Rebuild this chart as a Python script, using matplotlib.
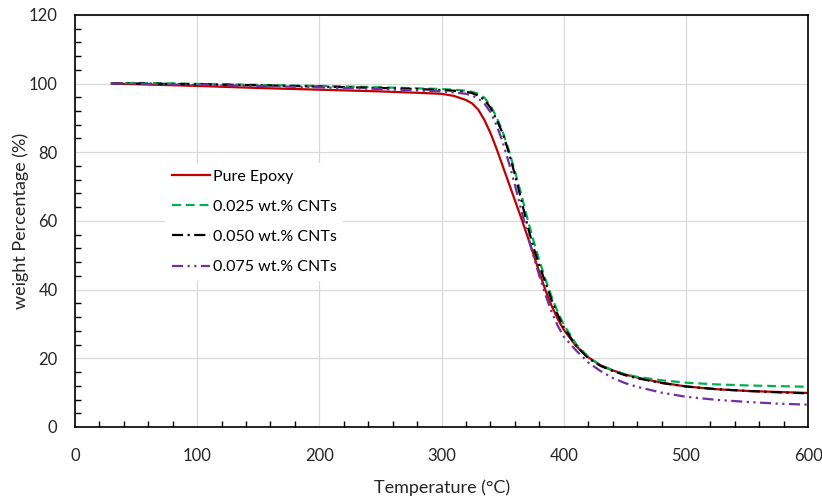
import matplotlib
matplotlib.use("Agg")
import matplotlib.pyplot as plt
from matplotlib.ticker import MultipleLocator

# Temperature (°C) sample points shared by all curves
temp = [30, 50, 100, 150, 200, 250, 280, 300, 310, 320, 325, 330, 335, 340,
        345, 350, 355, 360, 365, 370, 375, 380, 385, 390, 395, 400, 410, 420,
        430, 440, 450, 460, 480, 500, 525, 550, 575, 600]

# weight percentage
pure_epoxy = [100, 99.8, 99.3, 98.7, 98.2, 97.7, 97.3, 97.0, 96.4, 95.2, 94.2,
              92.4, 89.4, 85.6, 81.0, 76.0, 71.0, 66.0, 61.0, 55.8, 50.5, 45.0,
              39.8, 35.3, 31.5, 28.3, 23.6, 20.3, 18.0, 16.5, 15.3, 14.4,
              12.9, 11.8, 11.0, 10.5, 10.2, 9.9]
cnt_025 = [100, 100.2, 99.9, 99.6, 99.3, 98.9, 98.6, 98.4, 98.2, 97.9, 97.6,
           97.0, 95.9, 93.6, 90.2, 86.0, 80.5, 74.5, 68.0, 61.0, 54.5, 48.5,
           43.0, 38.0, 33.5, 29.8, 24.2, 20.4, 18.0, 16.5, 15.4, 14.6,
           13.6, 12.9, 12.4, 12.1, 11.9, 11.7]
cnt_050 = [100, 100, 99.8, 99.5, 99.1, 98.7, 98.4, 98.1, 97.9, 97.6, 97.2,
           96.5, 95.3, 93.0, 89.5, 85.5, 80.0, 73.5, 66.5, 59.0, 52.5, 47.0,
           42.0, 37.0, 32.7, 29.0, 23.7, 20.0, 17.8, 16.3, 15.1, 14.2,
           12.8, 11.8, 11.0, 10.5, 10.1, 9.8]
cnt_075 = [100, 99.9, 99.6, 99.3, 98.9, 98.4, 98.0, 97.7, 97.4, 97.0, 96.5,
           95.6, 94.2, 91.7, 87.8, 83.0, 77.0, 70.5, 63.5, 56.5, 50.0, 44.0,
           38.5, 33.5, 29.5, 26.3, 22.3, 18.8, 16.3, 14.3, 12.8, 11.7,
           10.0, 8.8, 7.9, 7.3, 6.8, 6.5]

labels = ["Pure Epoxy", "0.025 wt.% CNTs", "0.050 wt.% CNTs", "0.075 wt.% CNTs"]

plt.rcParams["font.family"] = ["Lato", "DejaVu Sans"]

fig = plt.figure(figsize=(8.22, 4.99), dpi=100)
ax = fig.add_axes([0.0912, 0.1443, 0.892, 0.826])

ax.plot(temp, pure_epoxy, color="#C00000", lw=1.6, label=labels[0])
ax.plot(temp, cnt_025, color="#00B050", lw=1.6, ls=(0, (4, 2.2)), label=labels[1])
ax.plot(temp, cnt_050, color="black", lw=1.6, ls=(0, (5, 2, 1, 2)), label=labels[2])
ax.plot(temp, cnt_075, color="#7030A0", lw=1.6, ls=(0, (5, 2, 1, 2, 1, 2)), label=labels[3])

ax.set_xlim(0, 600)
ax.set_ylim(0, 120)
ax.xaxis.set_major_locator(MultipleLocator(100))
ax.yaxis.set_major_locator(MultipleLocator(20))
ax.xaxis.set_minor_locator(MultipleLocator(20))
ax.yaxis.set_minor_locator(MultipleLocator(4))
ax.grid(True, which="major", color="#d9d9d9", lw=0.9)
ax.set_axisbelow(True)
ax.tick_params(which="major", length=0, labelsize=12, labelcolor="#262626")
ax.tick_params(axis="x", which="major", pad=15)
ax.tick_params(axis="y", which="major", pad=12.5)
ax.tick_params(which="minor", direction="in", length=4, width=1, color="black")
for s in ax.spines.values():
    s.set_color("black")
    s.set_linewidth(1.2)

ax.set_xlabel("Temperature (\u00b0C)", fontsize=13, color="#262626", labelpad=11)
ax.set_ylabel("weight Percentage (%)", fontsize=13, color="#262626", labelpad=0)

leg = ax.legend(loc="upper left", bbox_to_anchor=(0.123, 0.64), fontsize=11.5,
                frameon=True, facecolor="white", edgecolor="none", framealpha=1,
                fancybox=False, handlelength=2.4, handletextpad=0.2,
                labelspacing=1.0, borderpad=0.4, borderaxespad=0)

fig.savefig("out.png", dpi=100)
